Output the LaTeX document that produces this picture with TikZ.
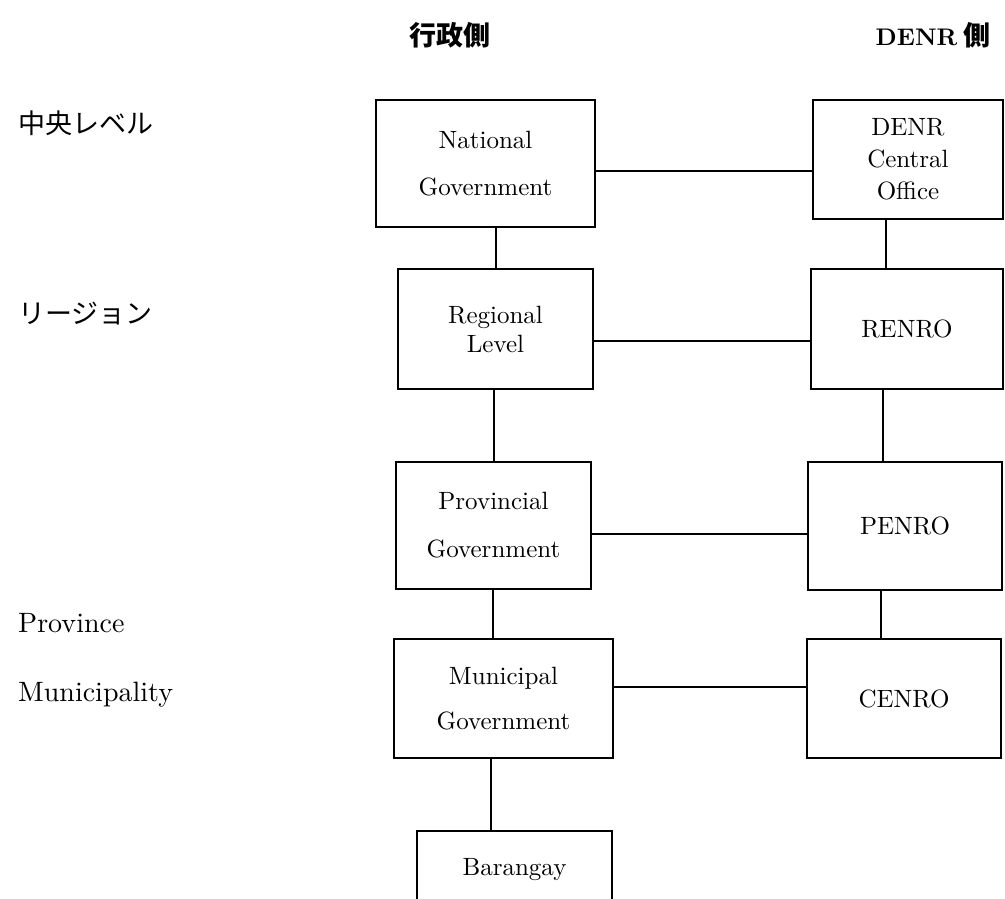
\documentclass[tikz,border=0pt]{standalone}
\usepackage{fontspec}
\setmainfont{lmroman10-regular}[Extension=.otf, BoldFont=lmroman10-bold, ItalicFont=lmroman10-italic]
\newfontfamily\jp{Noto Sans CJK JP}
\begin{document}
\begin{tikzpicture}[x=1pt,y=-1pt,
  box/.style={draw, line width=2.5pt, rectangle, inner sep=0pt, align=center,
              font=\fontsize{25}{30}\selectfont},
  link/.style={line width=2.5pt},
  lbl/.style={inner sep=0pt},
  jplbl/.style={lbl, anchor=west, font=\jp\fontsize{27}{27}\selectfont},
  enlbl/.style={lbl, anchor=base west, font=\fontsize{28}{28}\selectfont}]
\useasboundingbox (0,0) rectangle (1005,898);
\clip (0,0) rectangle (1005,898);

% headers
\node[lbl, font=\jp\bfseries\fontsize{27}{27}\selectfont] (h1) at (450,35) {行政側};
\node[lbl] (h2) at (933,35) {\fontsize{24}{24}\selectfont\bfseries DENR\hspace{6pt}\jp\fontsize{27}{27}\selectfont 側};

% level labels
\node[jplbl] (l1) at (18,123) {中央レベル};
\node[jplbl] (l2) at (18,314) {リージョン};
\node[enlbl] (l3) at (18,632) {Province};
\node[enlbl] (l4) at (18,701) {Municipality};

% left column
\node[box, minimum width=219pt, minimum height=127pt] (nat) at (485.5,163.5) {National\\[17pt]Government};
\node[box, minimum width=195pt, minimum height=120pt, font=\fontsize{25}{29}\selectfont] (reg) at (495.5,329) {Regional\\Level};
\node[box, minimum width=195pt, minimum height=127pt] (prov) at (493.5,525.5) {Provincial\\[18pt]Government};
\node[box, minimum width=219pt, minimum height=119pt] (mun) at (503.5,698.5) {Municipal\\[15pt]Government};
\node[box, minimum width=195pt, minimum height=77pt] (bar) at (514.5,869.5) {Barangay};

% right column
\node[box, minimum width=190pt, minimum height=119pt, font=\fontsize{25}{32}\selectfont] (denr) at (908,159.5) {DENR\\Central\\Office};
\node[box, minimum width=192pt, minimum height=120pt] (renro) at (907,329) {RENRO};
\node[box, minimum width=194pt, minimum height=128pt] (penro) at (905,526) {PENRO};
\node[box, minimum width=194pt, minimum height=119pt] (cenro) at (904,698.5) {CENRO};

% horizontal links
\draw[link] (nat.east |- 0,171) -- (denr.west |- 0,171);
\draw[link] (reg.east |- 0,341) -- (renro.west |- 0,341);
\draw[link] (prov.east |- 0,534) -- (penro.west |- 0,534);
\draw[link] (mun.east |- 0,687) -- (cenro.west |- 0,687);

% vertical links
\draw[link] (nat.south -| 496,0) -- (reg.north -| 496,0);
\draw[link] (reg.south -| 494,0) -- (prov.north -| 494,0);
\draw[link] (prov.south -| 493,0) -- (mun.north -| 493,0);
\draw[link] (mun.south -| 491,0) -- (bar.north -| 491,0);
\draw[link] (denr.south -| 886,0) -- (renro.north -| 886,0);
\draw[link] (renro.south -| 883,0) -- (penro.north -| 883,0);
\draw[link] (penro.south -| 881,0) -- (cenro.north -| 881,0);
\end{tikzpicture}
\end{document}
